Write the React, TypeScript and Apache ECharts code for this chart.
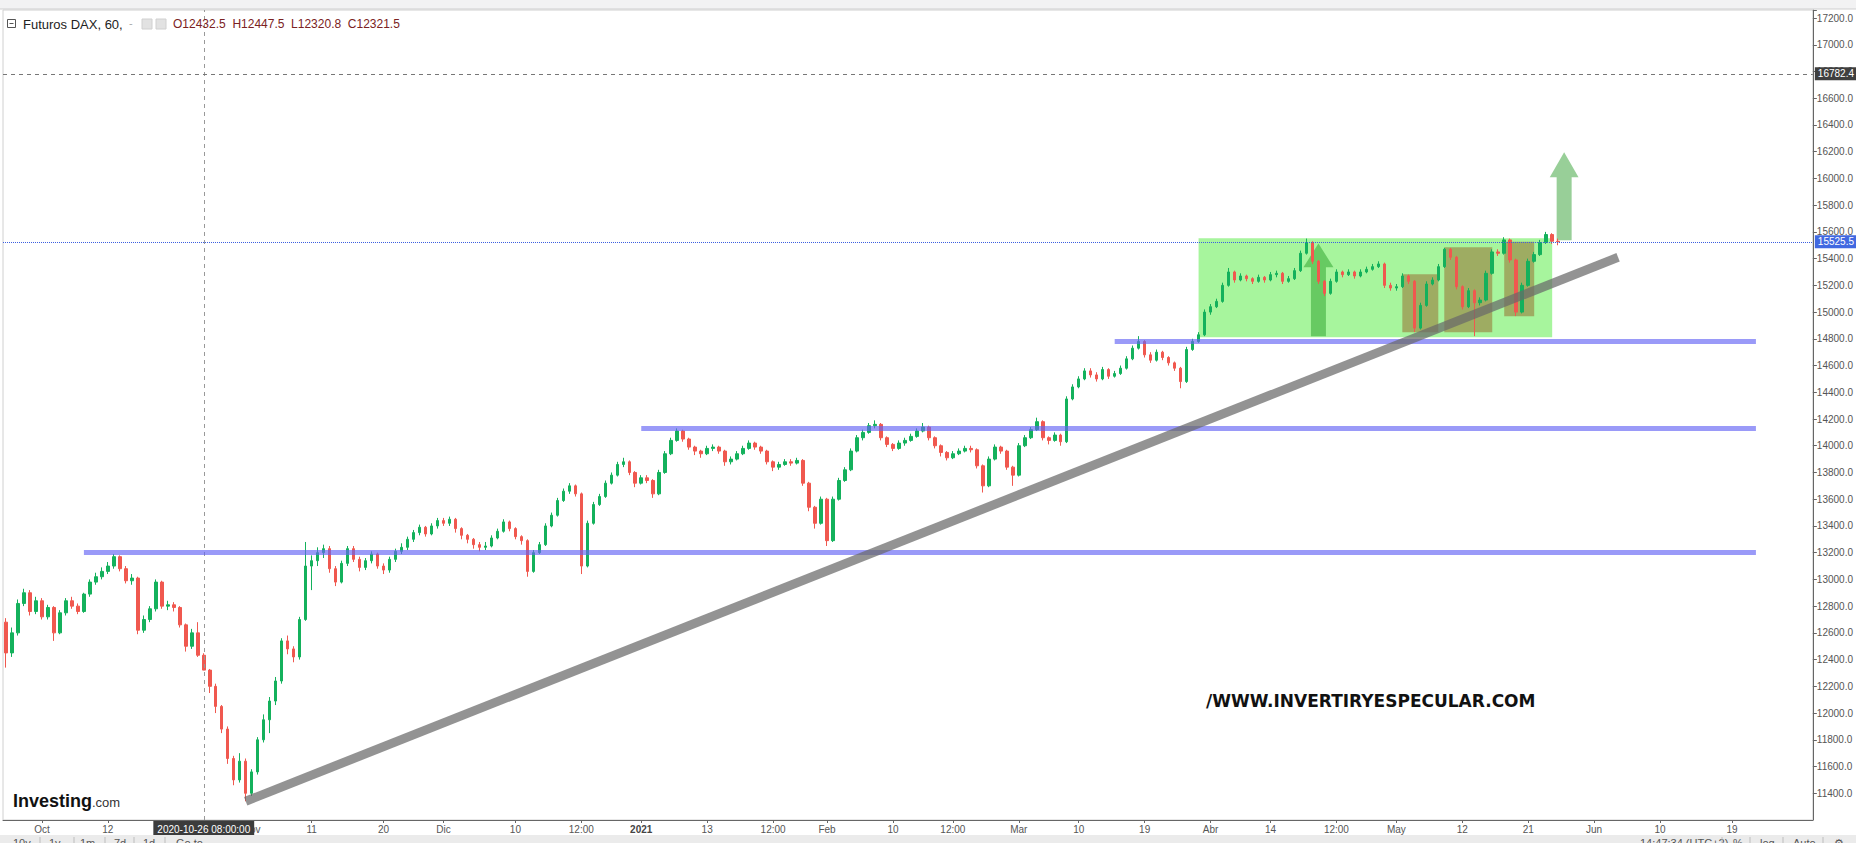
import React, { useEffect, useRef } from 'react';
import * as echarts from 'echarts';

// ---- axis data ----
const SLOT_COUNT = 302; // hourly-candle slots (each slot groups a few hours) incl. empty future space
const tickLabels: [number, string][] = [
  [6, 'Oct'], [17, '12'], [41, 'Nov'], [51, '11'], [63, '20'], [73, 'Dic'], [85, '10'], [96, '12:00'],
  [106, '2021'], [117, '13'], [128, '12:00'], [137, 'Feb'], [148, '10'], [158, '12:00'], [169, 'Mar'],
  [179, '10'], [190, '19'], [201, 'Abr'], [211, '14'], [222, '12:00'], [232, 'May'], [243, '12'],
  [254, '21'], [265, 'Jun'], [276, '10'], [288, '19'],
];
const yMin = 11200;
const yMax = 17260;
const yStep = 200;

// ---- price data: first open, then [close, low, high] per slot ----
const firstOpen = 12680;
const bars: [number, number, number][] = [
  [12450, 12340, 12710], [12600, 12420, 12640], [12820, 12580, 12850], [12900, 12800, 12930], [12760, 12730, 12920],
  [12840, 12740, 12870], [12720, 12700, 12860], [12790, 12700, 12810], [12600, 12540, 12800], [12750, 12590, 12770],
  [12840, 12730, 12860], [12800, 12780, 12870], [12760, 12740, 12820], [12890, 12750, 12900], [12980, 12870, 13000],
  [13020, 12960, 13050], [13060, 13000, 13090], [13100, 13040, 13130], [13170, 13080, 13190], [13080, 13060, 13180],
  [12990, 12970, 13100], [13010, 12960, 13040], [12620, 12590, 13020], [12700, 12600, 12730], [12780, 12680, 12800],
  [12980, 12760, 13000], [12800, 12780, 12990], [12810, 12770, 12840], [12790, 12760, 12830], [12660, 12640, 12800],
  [12500, 12460, 12670], [12600, 12480, 12630], [12432.5, 12420, 12680], [12321.5, 12320.8, 12447.5], [12200, 12150, 12330],
  [12050, 12000, 12220], [11880, 11850, 12060], [11660, 11620, 11900], [11500, 11460, 11680], [11640, 11480, 11700],
  [11400, 11340, 11660], [11560, 11380, 11580], [11800, 11540, 11820], [11950, 11780, 11990], [12090, 11850, 12120],
  [12240, 12060, 12270], [12540, 12220, 12560], [12480, 12440, 12580], [12420, 12380, 12500], [12700, 12400, 12720],
  [13100, 12690, 13280], [13140, 12920, 13180], [13200, 13100, 13240], [13230, 13160, 13260], [13080, 13050, 13250],
  [12980, 12950, 13100], [13120, 12970, 13140], [13230, 13100, 13250], [13150, 13130, 13250], [13090, 13060, 13170],
  [13140, 13070, 13160], [13190, 13120, 13210], [13100, 13080, 13200], [13070, 13040, 13120], [13150, 13050, 13170],
  [13210, 13130, 13230], [13240, 13190, 13270], [13300, 13220, 13320], [13350, 13280, 13370], [13390, 13330, 13410],
  [13340, 13320, 13400], [13400, 13330, 13420], [13440, 13380, 13460], [13420, 13400, 13460], [13450, 13400, 13470],
  [13380, 13350, 13460], [13330, 13300, 13390], [13300, 13270, 13340], [13260, 13230, 13310], [13240, 13210, 13280],
  [13250, 13220, 13280], [13310, 13240, 13330], [13360, 13300, 13380], [13430, 13350, 13450], [13380, 13360, 13440],
  [13320, 13300, 13390], [13290, 13260, 13330], [13060, 13020, 13300], [13200, 13050, 13220], [13260, 13190, 13280],
  [13400, 13250, 13420], [13480, 13390, 13500], [13590, 13470, 13610], [13660, 13580, 13680], [13700, 13640, 13720],
  [13640, 13620, 13710], [13100, 13040, 13650], [13420, 13090, 13440], [13560, 13410, 13580], [13620, 13550, 13640],
  [13720, 13610, 13740], [13780, 13710, 13800], [13860, 13770, 13880], [13880, 13840, 13910], [13800, 13780, 13890],
  [13720, 13690, 13810], [13760, 13710, 13780], [13740, 13720, 13780], [13640, 13610, 13750], [13800, 13630, 13820],
  [13940, 13790, 13960], [14040, 13930, 14060], [14110, 14030, 14130], [14050, 14030, 14120], [13990, 13970, 14060],
  [13960, 13930, 14000], [13940, 13910, 13970], [13980, 13930, 14000], [13990, 13960, 14010], [13960, 13940, 14000],
  [13880, 13850, 13970], [13900, 13860, 13920], [13940, 13890, 13960], [13980, 13930, 14000], [14020, 13970, 14040],
  [13990, 13970, 14030], [13960, 13940, 14000], [13880, 13860, 13970], [13840, 13810, 13890], [13860, 13820, 13880],
  [13880, 13850, 13900], [13870, 13850, 13900], [13890, 13860, 13910], [13720, 13700, 13900], [13540, 13510, 13730],
  [13420, 13380, 13550], [13600, 13410, 13620], [13290, 13250, 13610], [13600, 13280, 13620], [13740, 13590, 13760],
  [13820, 13730, 13840], [13960, 13810, 13980], [14060, 13950, 14080], [14100, 14040, 14120], [14150, 14090, 14170],
  [14160, 14130, 14190], [14060, 14040, 14170], [14010, 13990, 14070], [13980, 13960, 14020], [14020, 13970, 14040],
  [14040, 14000, 14060], [14070, 14030, 14090], [14110, 14060, 14130], [14140, 14100, 14170], [14060, 14040, 14150],
  [14000, 13980, 14070], [13950, 13920, 14010], [13910, 13890, 13960], [13940, 13900, 13960], [13960, 13930, 13980],
  [13980, 13950, 14000], [13970, 13950, 14000], [13850, 13830, 13980], [13700, 13650, 13860], [13900, 13690, 13920],
  [13990, 13890, 14010], [13960, 13940, 14000], [13840, 13820, 13970], [13780, 13700, 13850], [14000, 13770, 14020],
  [14060, 13990, 14080], [14120, 14050, 14140], [14180, 14110, 14210], [14060, 14040, 14190], [14040, 14010, 14070],
  [14080, 14030, 14100], [14030, 14000, 14090], [14350, 14020, 14370], [14440, 14340, 14460], [14500, 14430, 14520],
  [14560, 14490, 14580], [14530, 14510, 14580], [14500, 14480, 14550], [14570, 14490, 14590], [14520, 14500, 14580],
  [14540, 14510, 14560], [14580, 14530, 14600], [14650, 14570, 14670], [14730, 14640, 14750], [14780, 14720, 14820],
  [14680, 14660, 14790], [14640, 14620, 14700], [14700, 14630, 14720], [14660, 14640, 14710], [14620, 14600, 14670],
  [14580, 14560, 14630], [14480, 14430, 14590], [14720, 14470, 14740], [14780, 14710, 14800], [14830, 14770, 14850],
  [15000, 14820, 15020], [15040, 14980, 15060], [15080, 15030, 15100], [15200, 15070, 15220], [15300, 15190, 15330],
  [15240, 15220, 15310], [15270, 15230, 15290], [15250, 15230, 15280], [15230, 15210, 15260], [15260, 15220, 15280],
  [15240, 15220, 15270], [15280, 15230, 15300], [15290, 15260, 15310], [15230, 15210, 15300], [15250, 15220, 15270],
  [15310, 15240, 15330], [15440, 15300, 15460], [15520, 15430, 15550], [15380, 15360, 15530], [15230, 15210, 15390],
  [15140, 15120, 15240], [15230, 15130, 15250], [15300, 15220, 15320], [15280, 15260, 15310], [15300, 15270, 15320],
  [15270, 15250, 15310], [15300, 15260, 15320], [15320, 15290, 15340], [15340, 15310, 15360], [15360, 15330, 15380],
  [15200, 15180, 15370], [15180, 15160, 15220], [15190, 15160, 15210], [15270, 15180, 15290], [15230, 15210, 15280],
  [14880, 14850, 15240], [15050, 14870, 15070], [15210, 15040, 15230], [15240, 15200, 15260], [15340, 15230, 15360],
  [15470, 15330, 15480], [15410, 15390, 15480], [15190, 15170, 15420], [15040, 15020, 15200], [15160, 15030, 15180],
  [15070, 14820, 15170], [15090, 15050, 15110], [15290, 15080, 15310], [15450, 15280, 15470], [15440, 15420, 15470],
  [15540, 15430, 15560], [15390, 15370, 15550], [15000, 14970, 15400], [15200, 14990, 15220], [15380, 15190, 15400],
  [15430, 15370, 15450], [15520, 15420, 15540], [15580, 15510, 15600], [15530, 15510, 15590], [15525.5, 15500, 15550],
];

// ---- drawings (slot index, price) ----
const supportLines: [number, number, number][] = [[13, 292, 13200], [106, 292, 14130], [185, 292, 14780]]; // from, to, price
const trendLine: [number, number, number, number] = [40, 11340, 269, 15410];
const rangeBox: [number, number, number, number] = [199, 15552, 258, 14811];
const pullbackBoxes: [number, number, number, number][] = [
  [233, 15283, 239, 14849], [240, 15485, 248, 14849], [250, 15527, 255, 14968],
];
// slot, tip price, head-base price, bottom price, head half-width (slots), shaft half-width (slots)
const arrows: number[][] = [[219, 15514, 15335, 14819, 2.5, 1.25], [260, 16196, 16009, 15537, 2.4, 1.25]];
const crosshairSlot = 33;
const crosshairTime = '2020-10-26 08:00:00';
const crosshairPrice = 16782.4;
const lastPrice = 15525.5;
const headerName = 'Futuros DAX, 60,';
const ohlcLabels: [string, string][] = [['O', '12432.5'], ['H', '12447.5'], ['L', '12320.8'], ['C', '12321.5']];
const watermark = '/WWW.INVERTIRYESPECULAR.COM';

const AXIS_FONT = "'Liberation Sans Narrow', 'Arial Narrow', 'Liberation Sans', Arial, sans-serif";
const UI_FONT = "'Liberation Sans', Arial, sans-serif";

export default function App() {
  const ref = useRef<HTMLDivElement>(null);

  useEffect(() => {
    if (!ref.current) return;
    const chart = echarts.init(ref.current, undefined, { renderer: 'svg' });

    const labelMap = new Map<number, string>(tickLabels);
    const categories = Array.from({ length: SLOT_COUNT }, (_, i) => 's' + i);

    const candleData: number[][] = [];
    let prev = firstOpen;
    bars.forEach(([c, l, h]) => {
      candleData.push([prev, c, l, h]);
      prev = c;
    });

    const arrowFills = ['rgba(40,160,40,0.5)', 'rgba(50,160,50,0.5)'];

    const option: any = {
      animation: false,
      backgroundColor: '#ffffff',
      grid: { left: 3, right: 42, top: 10, bottom: 23, show: true, borderColor: '#d0d0d0', borderWidth: 1 },
      xAxis: {
        type: 'category',
        data: categories,
        boundaryGap: true,
        axisLine: { lineStyle: { color: '#666' } },
        axisTick: {
          show: true,
          alignWithLabel: true,
          length: 3,
          interval: (i: number) => labelMap.has(i),
          lineStyle: { color: '#666' },
        },
        axisLabel: {
          interval: (i: number) => labelMap.has(i),
          formatter: (_v: string, i: number) => {
            const t = labelMap.get(i) || '';
            return /^\d{4}$/.test(t) ? '{b|' + t + '}' : t;
          },
          color: '#555',
          fontSize: 10,
          fontFamily: AXIS_FONT,
          margin: 4,
          rich: { b: { fontWeight: 'bold', color: '#444', fontSize: 10, fontFamily: AXIS_FONT } },
        },
        splitLine: { show: false },
      },
      yAxis: {
        type: 'value',
        position: 'right',
        min: yMin,
        max: yMax,
        interval: yStep,
        scale: true,
        axisLine: { show: true, lineStyle: { color: '#666' } },
        axisTick: { show: true, length: 4, lineStyle: { color: '#666' } },
        axisLabel: {
          color: '#555',
          fontSize: 10,
          fontFamily: AXIS_FONT,
          margin: 4,
          showMinLabel: false,
          formatter: (v: number) => (v % yStep === 0 ? v.toFixed(1) : ''),
        },
        splitLine: { show: false },
      },
      series: [
        {
          type: 'line',
          data: [],
          z: 1,
          silent: true,
          markArea: {
            silent: true,
            data: [
              [
                { coord: [rangeBox[0], rangeBox[1]], itemStyle: { color: 'rgba(80,235,60,0.5)' } },
                { coord: [rangeBox[2], rangeBox[3]] },
              ],
              ...pullbackBoxes.map((b) => [
                { coord: [b[0], b[1]], itemStyle: { color: 'rgba(150,100,40,0.5)' } },
                { coord: [b[2], b[3]] },
              ]),
            ],
          },
        },
        {
          type: 'custom',
          z: 2,
          silent: true,
          data: arrows,
          encode: { x: 0, y: 1 },
          renderItem: (params: any, api: any) => {
            const x = api.value(0);
            const tip = api.coord([x, api.value(1)]);
            const base = api.coord([x, api.value(2)]);
            const bottom = api.coord([x, api.value(3)]);
            const slot = api.size([1, 0])[0];
            const hw = api.value(4) * slot;
            const sw = api.value(5) * slot;
            const cx = tip[0];
            return {
              type: 'polygon',
              shape: {
                points: [
                  [cx, tip[1]], [cx + hw, base[1]], [cx + sw, base[1]], [cx + sw, bottom[1]],
                  [cx - sw, bottom[1]], [cx - sw, base[1]], [cx - hw, base[1]],
                ],
              },
              style: { fill: arrowFills[params.dataIndex] },
            };
          },
        },
        {
          type: 'candlestick',
          name: 'DAX',
          z: 3,
          barWidth: 3,
          data: candleData,
          itemStyle: {
            color: '#14b15c',
            color0: '#f0584f',
            borderColor: '#14b15c',
            borderColor0: '#f0584f',
            borderWidth: 1,
          },
          markLine: {
            silent: true,
            symbol: ['none', 'none'],
            animation: false,
            data: [
              {
                xAxis: crosshairSlot,
                lineStyle: { color: '#999', type: [4, 4], width: 1 },
                label: {
                  show: true,
                  position: 'start',
                  distance: 1,
                  formatter: crosshairTime,
                  color: '#fff',
                  backgroundColor: '#3c3c3c',
                  padding: [3, 4, 2, 4],
                  fontSize: 10,
                  fontFamily: AXIS_FONT,
                },
              },
              {
                yAxis: crosshairPrice,
                lineStyle: { color: '#777', type: [4, 4], width: 1 },
                label: {
                  show: true,
                  position: 'end',
                  distance: 2,
                  formatter: crosshairPrice.toFixed(1),
                  color: '#fff',
                  backgroundColor: '#3f3f3f',
                  padding: [2, 3, 1, 3],
                  fontSize: 10,
                  fontFamily: AXIS_FONT,
                },
              },
              {
                yAxis: lastPrice,
                lineStyle: { color: '#3b5fe0', type: 'dotted', width: 1 },
                label: {
                  show: true,
                  position: 'end',
                  distance: 2,
                  formatter: lastPrice.toFixed(1),
                  color: '#fff',
                  backgroundColor: '#4169e1',
                  padding: [2, 3, 1, 3],
                  fontSize: 10,
                  fontFamily: AXIS_FONT,
                },
              },
            ],
          },
        },
        {
          type: 'line',
          data: [],
          z: 4,
          silent: true,
          markLine: {
            silent: true,
            symbol: ['none', 'none'],
            label: { show: false },
            data: [
              ...supportLines.map(([a, b, p]) => [
                { coord: [a, p], lineStyle: { color: 'rgba(100,100,245,0.65)', width: 5, type: 'solid', cap: 'butt' } },
                { coord: [b, p] },
              ]),
              [
                {
                  coord: [trendLine[0], trendLine[1]],
                  lineStyle: { color: 'rgba(105,105,105,0.72)', width: 9, type: 'solid', cap: 'butt' },
                },
                { coord: [trendLine[2], trendLine[3]] },
              ],
            ],
          },
        },
      ],
      graphic: [
        // top toolbar strip
        { type: 'rect', shape: { x: 0, y: 0, width: 1856, height: 9 }, style: { fill: '#f2f2f3' }, z: 100 },
        { type: 'line', shape: { x1: 0, y1: 9, x2: 1856, y2: 9 }, style: { stroke: '#cfcfcf', lineWidth: 1 }, z: 100 },
        // bottom toolbar strip
        { type: 'rect', shape: { x: 0, y: 835, width: 1856, height: 8 }, style: { fill: '#ebebeb' }, z: 100 },
        ...[['10y', 13], ['1y', 49], ['1m', 80], ['7d', 114], ['1d', 143], ['Go to', 176],
          ['14:47:34 (UTC+2)', 1640], ['%', 1733], ['log', 1760], ['Auto', 1793], ['⚙', 1834]].map(([t, x]) => ({
          type: 'text', x: x as number, y: 837, z: 101,
          style: { text: t as string, fill: '#555', fontSize: 11, fontFamily: UI_FONT, verticalAlign: 'top' },
        })),
        ...[40, 74, 105, 134, 165, 1722, 1750, 1783, 1823].map((x) => ({
          type: 'line', z: 101, shape: { x1: x, y1: 837, x2: x, y2: 843 }, style: { stroke: '#bdbdbd', lineWidth: 1 },
        })),
        // header
        { type: 'rect', shape: { x: 7.5, y: 19.5, width: 8, height: 8 }, style: { fill: '#fff', stroke: '#555', lineWidth: 1 }, z: 100 },
        { type: 'line', shape: { x1: 9.5, y1: 23.5, x2: 13.5, y2: 23.5 }, style: { stroke: '#555', lineWidth: 1 }, z: 100 },
        {
          type: 'text', x: 23, y: 24, z: 100,
          style: { text: headerName, fill: '#222', fontSize: 13, fontFamily: UI_FONT, verticalAlign: 'middle' },
        },
        {
          type: 'text', x: 129, y: 23, z: 100,
          style: { text: '-', fill: '#aaa', fontSize: 11, fontFamily: UI_FONT, verticalAlign: 'middle' },
        },
        { type: 'rect', shape: { x: 142, y: 19, width: 10, height: 10 }, style: { fill: '#e2e2e2', stroke: '#d0d0d0' }, z: 100 },
        { type: 'rect', shape: { x: 156, y: 19, width: 10, height: 10 }, style: { fill: '#e2e2e2', stroke: '#d0d0d0' }, z: 100 },
        {
          type: 'text', x: 173, y: 24, z: 100,
          style: {
            text: ohlcLabels.map(([k, v]) => k + v).join('  '),
            fill: '#7b2222', fontSize: 12, fontFamily: UI_FONT, verticalAlign: 'middle',
          },
        },
        // watermark
        {
          type: 'text', x: 1206, y: 701, z: 100,
          style: {
            text: watermark, fill: '#111', fontSize: 17, fontWeight: 'bold',
            fontFamily: "'DejaVu Sans', Verdana, sans-serif", verticalAlign: 'middle',
          },
        },
        // Investing.com logo
        {
          type: 'text', x: 13, y: 801, z: 100,
          style: {
            text: '{a|Investing}{b|.com}',
            verticalAlign: 'middle',
            rich: {
              a: { fontSize: 18, fontWeight: 'bold', fill: '#111', fontFamily: UI_FONT },
              b: { fontSize: 13, fill: '#333', fontFamily: UI_FONT, padding: [3, 0, 0, 0] },
            },
          },
        },
      ],
    };

    chart.setOption(option);
    return () => chart.dispose();
  }, []);

  return (
    <div
      ref={ref}
      style={{ position: 'fixed', left: 0, top: 0, width: 1856, height: 843, background: '#fff' }}
    />
  );
}
